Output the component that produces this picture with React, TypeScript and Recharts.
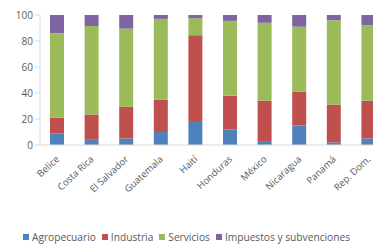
import React from 'react';
import { BarChart, Bar, XAxis, YAxis, Legend } from 'recharts';

const countries = ['Belice', 'Costa Rica', 'El Salvador', 'Guatemala', 'Haití', 'Honduras', 'México', 'Nicaragua', 'Panamá', 'Rep. Dom.'];
const agropecuario = [9, 4.5, 5, 10, 18.5, 12, 3, 15, 2, 5];
const industria = [12, 19, 24.5, 25, 66, 26, 31, 26, 29, 29];
const servicios = [65, 68, 60, 62, 13, 57.5, 60, 50, 65, 58];
const impuestos = [14, 8.5, 10.5, 3, 2.5, 4.5, 6, 9, 4, 8];
const yTicks = [0, 20, 40, 60, 80, 100];

const series = [
  { key: 'agro', name: 'Agropecuario', color: '#4F81BD' },
  { key: 'ind', name: 'Industria', color: '#C0504D' },
  { key: 'serv', name: 'Servicios', color: '#9BBB59' },
  { key: 'imp', name: 'Impuestos y subvenciones', color: '#8064A2' },
];

const data = countries.map((name, i) => ({
  name,
  agro: agropecuario[i],
  ind: industria[i],
  serv: servicios[i],
  imp: impuestos[i],
}));

const TEXT = '#595959';
const FONT = 'Open Sans, sans-serif';

// legend in series order (recharts sorts by name otherwise)
const renderLegend = () => (
  <div style={{ display: 'flex', justifyContent: 'center', gap: 6, fontSize: 10.2, fontFamily: FONT, color: TEXT, whiteSpace: 'nowrap' }}>
    {series.map((s) => (
      <span key={s.key} style={{ display: 'flex', alignItems: 'center' }}>
        <span style={{ width: 6, height: 6, background: s.color, marginRight: 3, display: 'inline-block' }} />
        {s.name}
      </span>
    ))}
  </div>
);

const App: React.FC = () => {
  return (
    <div style={{ position: 'absolute', left: 0, top: 0, width: 373, height: 249, overflow: 'hidden', background: '#fff' }}>
      <BarChart
        width={386}
        height={249}
        data={data}
        margin={{ top: 15, right: 0, left: 0, bottom: 0 }}
      >
        <XAxis
          dataKey="name"
          interval={0}
          angle={-43}
          textAnchor="end"
          tick={{ fontSize: 9.5, fill: TEXT, fontFamily: FONT, dx: -2, dy: 2 }}
          tickLine={false}
          axisLine={{ stroke: '#d9d9d9' }}
          height={90}
        />
        <YAxis
          ticks={yTicks}
          domain={[0, 100]}
          width={40}
          tick={{ fontSize: 10, fill: TEXT, fontFamily: FONT }}
          tickSize={5}
          tickLine={{ stroke: '#d9d9d9' }}
          axisLine={{ stroke: '#d9d9d9' }}
        />
        <Legend
          verticalAlign="bottom"
          content={renderLegend}
          wrapperStyle={{ left: 0, width: 373, bottom: 5 }}
        />
        {series.map((s) => (
          <Bar key={s.key} dataKey={s.key} name={s.name} stackId="a" fill={s.color} barSize={14} isAnimationActive={false} />
        ))}
      </BarChart>
    </div>
  );
};

export default App;
